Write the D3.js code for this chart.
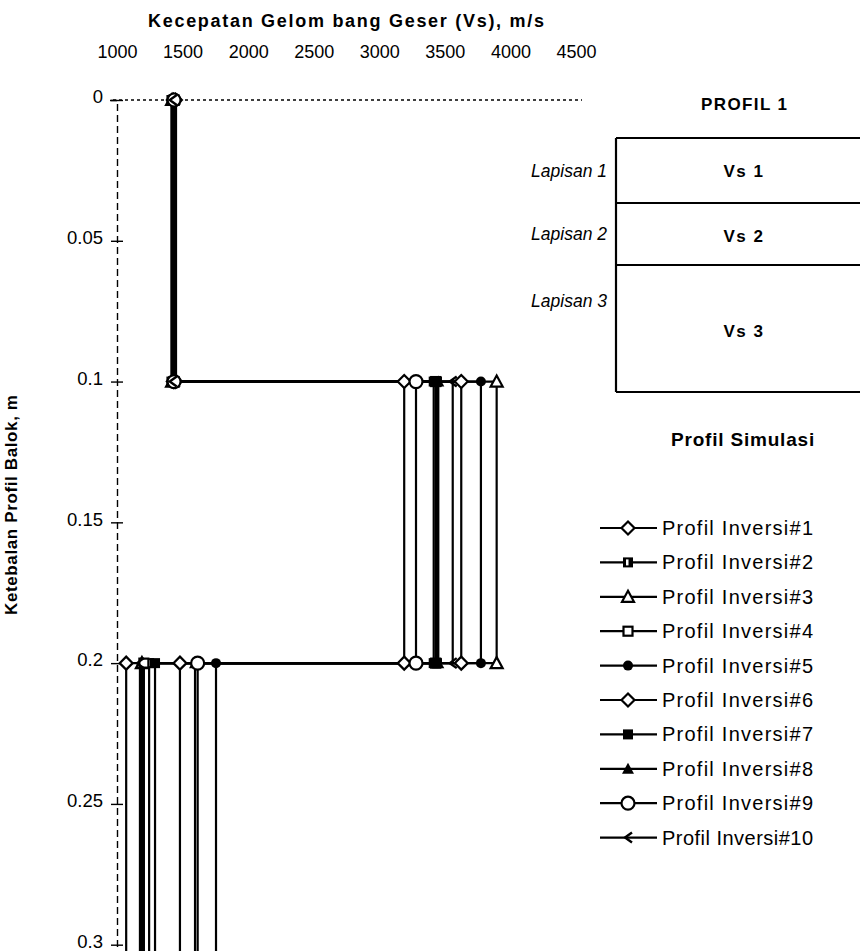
<!DOCTYPE html>
<html>
<head>
<meta charset="utf-8">
<script src="https://cdn.jsdelivr.net/npm/d3@7"></script>
<style>
  html, body { margin: 0; padding: 0; background: #fff; }
  svg { display: block; font-family: "Liberation Sans", Arial, sans-serif; }
</style>
</head>
<body>
<svg id="chart" width="860" height="951"></svg>
<script>
// Layer boundaries (depth, m)
const layerTops = [0, 0.1, 0.2];
const bottomDepth = 0.34;

// Inverted shear-wave velocity per layer for each inversion profile (m/s)
const profileNames = [
  "Profil Inversi#1", "Profil Inversi#2", "Profil Inversi#3", "Profil Inversi#4", "Profil Inversi#5",
  "Profil Inversi#6", "Profil Inversi#7", "Profil Inversi#8", "Profil Inversi#9", "Profil Inversi#10"
];
const vsLayer1 = [1445, 1430, 1420, 1435, 1450, 1430, 1415, 1440, 1435, 1425];
const vsLayer2 = [3190, 3415, 3895, 3430, 3775, 3625, 3440, 3450, 3280, 3560];
const vsLayer3 = [1070, 1245, 1190, 1205, 1755, 1480, 1290, 1595, 1615, 1175];
const markerKinds = ["diamond", "patsquare", "triangle", "square", "dot", "diamond", "fsquare", "ftriangle", "circle", "chevron"];

// Axis ticks
const xTicks = [1000, 1500, 2000, 2500, 3000, 3500, 4000, 4500];
const yTicks = [0, 0.05, 0.1, 0.15, 0.2, 0.25, 0.3];

// Simulated profile legend
const layerNames = ["Lapisan 1", "Lapisan 2", "Lapisan 3"];
const layerVsLabels = ["Vs 1", "Vs 2", "Vs 3"];

const svg = d3.select("#chart");

const x = d3.scaleLinear().domain([1000, 4500]).range([117, 576]);
const y = d3.scaleLinear().domain([0, 0.32]).range([100, 1001]);

// Top velocity axis
const xAxis = svg.append("g")
  .attr("transform", `translate(0,${y(0)})`)
  .call(d3.axisTop(x).tickValues(xTicks).tickSize(0).tickPadding(0).tickFormat(d3.format("d")));
xAxis.select(".domain").attr("stroke", "#000").attr("stroke-width", 1.3).attr("stroke-dasharray", "3,3")
  .attr("d", `M${x(1000) - 4},0H${x(4500) + 6}`);
xAxis.selectAll("text")
  .attr("y", 58 - y(0))
  .attr("dy", null)
  .attr("font-size", 18)
  .attr("fill", "#000");

// Left depth axis
const yAxis = svg.append("g")
  .attr("transform", `translate(${x(1000)},0)`)
  .call(d3.axisLeft(y).tickValues(yTicks).tickSize(7).tickPadding(0).tickFormat(d => d === 0 ? "0" : String(d)));
yAxis.select(".domain").attr("stroke", "#000").attr("stroke-width", 1.4).attr("stroke-dasharray", "7,4");
yAxis.selectAll(".tick line").attr("x1", -6).attr("x2", 6).attr("stroke", "#000").attr("stroke-width", 1.4);
yAxis.selectAll(".tick text")
  .attr("x", -14)
  .attr("dy", "0.15em")
  .attr("font-size", 18.5)
  .attr("fill", "#000");

// Axis titles
svg.append("text")
  .attr("x", 346).attr("y", 27)
  .attr("text-anchor", "middle")
  .attr("font-weight", "bold").attr("font-size", 18)
  .attr("textLength", 396).attr("lengthAdjust", "spacing")
  .text("Kecepatan Gelom bang Geser (Vs), m/s");

svg.append("text")
  .attr("transform", "translate(17,505) rotate(-90)")
  .attr("text-anchor", "middle")
  .attr("font-weight", "bold").attr("font-size", 17)
  .attr("textLength", 220).attr("lengthAdjust", "spacing")
  .text("Ketebalan Profil Balok, m");

// Marker drawing
function drawMarker(g, kind) {
  const k = kind;
  if (k === "diamond") {
    g.append("path").attr("d", "M0,-6.5L6.5,0L0,6.5L-6.5,0Z").attr("fill", "#fff").attr("stroke", "#000").attr("stroke-width", 2.2);
  } else if (k === "patsquare") {
    g.append("rect").attr("x", -5).attr("y", -5).attr("width", 10).attr("height", 10).attr("fill", "#000");
    g.append("rect").attr("x", -2).attr("y", -3).attr("width", 2.5).attr("height", 6).attr("fill", "#fff");
  } else if (k === "triangle") {
    g.append("path").attr("d", "M0,-6L6,5L-6,5Z").attr("fill", "#fff").attr("stroke", "#000").attr("stroke-width", 2.2);
  } else if (k === "square") {
    g.append("rect").attr("x", -4.5).attr("y", -4.5).attr("width", 9).attr("height", 9).attr("fill", "#fff").attr("stroke", "#000").attr("stroke-width", 2.2);
  } else if (k === "dot") {
    g.append("circle").attr("r", 5).attr("fill", "#000");
  } else if (k === "fsquare") {
    g.append("rect").attr("x", -5).attr("y", -5).attr("width", 10).attr("height", 10).attr("fill", "#000");
  } else if (k === "ftriangle") {
    g.append("path").attr("d", "M0,-6L6,5L-6,5Z").attr("fill", "#000");
  } else if (k === "circle") {
    g.append("circle").attr("r", 6.5).attr("fill", "#fff").attr("stroke", "#000").attr("stroke-width", 2.2);
  } else if (k === "chevron") {
    g.append("path").attr("d", "M4,-5L-3,0L4,5").attr("fill", "none").attr("stroke", "#000").attr("stroke-width", 2.4);
  }
}

// Step profiles: each layer drawn as a constant velocity between its top and bottom
const plot = svg.append("g");
const profiles = profileNames.map((name, i) => {
  const vs = [vsLayer1[i], vsLayer2[i], vsLayer3[i]];
  const pts = [];
  vs.forEach((v, j) => {
    const top = layerTops[j];
    const bot = j < layerTops.length - 1 ? layerTops[j + 1] : bottomDepth;
    pts.push([v, top], [v, bot]);
  });
  return { name, kind: markerKinds[i], pts };
});

const line = d3.line().x(d => x(d[0])).y(d => y(d[1]));

profiles.forEach(p => {
  plot.append("path")
    .attr("d", line(p.pts))
    .attr("fill", "none")
    .attr("stroke", "#000")
    .attr("stroke-width", 2.2);
});
profiles.forEach(p => {
  p.pts.forEach(d => {
    const g = plot.append("g").attr("transform", `translate(${x(d[0])},${y(d[1])})`);
    drawMarker(g, p.kind);
  });
});

// Simulated layered profile sketch
const box = svg.append("g");
const boxLeft = 616, boxRight = 870;
const boxRows = [138, 203, 265, 392];
box.append("line").attr("x1", boxLeft).attr("x2", boxLeft).attr("y1", boxRows[0]).attr("y2", boxRows[3])
  .attr("stroke", "#000").attr("stroke-width", 2.2);
boxRows.forEach(r => {
  box.append("line").attr("x1", boxLeft).attr("x2", boxRight).attr("y1", r).attr("y2", r)
    .attr("stroke", "#000").attr("stroke-width", 2.2);
});
box.append("text").attr("x", 744).attr("y", 110).attr("text-anchor", "middle")
  .attr("font-weight", "bold").attr("font-size", 17)
  .attr("textLength", 86).attr("lengthAdjust", "spacing").text("PROFIL 1");
const vsBase = [177, 242, 337];
const lapBase = [177, 240, 307];
layerVsLabels.forEach((t, i) => {
  box.append("text").attr("x", 744).attr("y", vsBase[i]).attr("text-anchor", "middle")
    .attr("font-weight", "bold").attr("font-size", 17).attr("letter-spacing", 1.5).text(t);
});
layerNames.forEach((t, i) => {
  box.append("text").attr("x", 607).attr("y", lapBase[i]).attr("text-anchor", "end")
    .attr("font-style", "italic").attr("font-size", 17.5).text(t);
});
box.append("text").attr("x", 743).attr("y", 446).attr("text-anchor", "middle")
  .attr("font-weight", "bold").attr("font-size", 19).attr("letter-spacing", 0.8).text("Profil Simulasi");

// Legend
const legend = svg.append("g");
profiles.forEach((p, i) => {
  const ly = 528 + i * 34.4;
  const g = legend.append("g").attr("transform", `translate(0,${ly})`);
  g.append("line").attr("x1", 600).attr("x2", 657).attr("y1", 0).attr("y2", 0)
    .attr("stroke", "#000").attr("stroke-width", 2.2);
  drawMarker(g.append("g").attr("transform", "translate(628,0)"), p.kind);
  g.append("text").attr("x", 662).attr("y", 7)
    .attr("font-size", 20)
    .attr("textLength", 151).attr("lengthAdjust", "spacing")
    .text(p.name);
});
</script>
</body>
</html>
